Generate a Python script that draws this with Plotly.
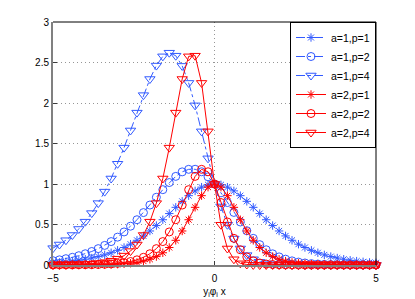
import plotly.graph_objects as go

x = [-5.0, -4.8, -4.6, -4.4, -4.2, -4.0, -3.8, -3.6, -3.4, -3.2, -3.0, -2.8, -2.6, -2.4, -2.2,
     -2.0, -1.8, -1.6, -1.4, -1.2, -1.0, -0.8, -0.6, -0.4, -0.2, 0.0, 0.2, 0.4, 0.6, 0.8,
     1.0, 1.2, 1.4, 1.6, 1.8, 2.0, 2.2, 2.4, 2.6, 2.8, 3.0, 3.2, 3.4, 3.6, 3.8, 4.0, 4.2,
     4.4, 4.6, 4.8, 5.0]

a1p1 = [0.027, 0.032, 0.039, 0.048, 0.058, 0.071, 0.086, 0.104, 0.125, 0.151, 0.181, 0.216, 0.257,
        0.305, 0.359, 0.420, 0.487, 0.559, 0.635, 0.712, 0.786, 0.856, 0.915, 0.961, 0.990, 1.000,
        0.990, 0.961, 0.915, 0.856, 0.786, 0.712, 0.635, 0.559, 0.487, 0.420, 0.359, 0.305, 0.257,
        0.216, 0.181, 0.151, 0.125, 0.104, 0.086, 0.071, 0.058, 0.048, 0.039, 0.032, 0.027]
a1p2 = [0.053, 0.064, 0.078, 0.095, 0.115, 0.139, 0.167, 0.202, 0.242, 0.289, 0.344, 0.408, 0.479,
        0.559, 0.647, 0.740, 0.836, 0.930, 1.018, 1.094, 1.150, 1.181, 1.182, 1.151, 1.089, 1.000,
        0.891, 0.771, 0.649, 0.531, 0.423, 0.329, 0.251, 0.188, 0.138, 0.100, 0.072, 0.051, 0.036,
        0.025, 0.017, 0.012, 0.008, 0.006, 0.004, 0.003, 0.002, 0.001, 0.001, 0.001, 0.000]
a1p4 = [0.208, 0.253, 0.306, 0.370, 0.445, 0.535, 0.641, 0.764, 0.906, 1.068, 1.250, 1.449, 1.661,
        1.881, 2.097, 2.296, 2.462, 2.576, 2.621, 2.584, 2.458, 2.248, 1.971, 1.650, 1.317, 1.000,
        0.723, 0.497, 0.326, 0.204, 0.122, 0.071, 0.039, 0.021, 0.011, 0.006, 0.003, 0.001, 0.001,
        0.000, 0.000, 0.000, 0.000, 0.000, 0.000, 0.000, 0.000, 0.000, 0.000, 0.000, 0.000]
a2p1 = [0.000, 0.000, 0.000, 0.001, 0.001, 0.001, 0.002, 0.003, 0.004, 0.007, 0.010, 0.015, 0.022,
        0.032, 0.048, 0.071, 0.104, 0.151, 0.216, 0.305, 0.420, 0.559, 0.712, 0.856, 0.961, 1.000,
        0.961, 0.856, 0.712, 0.559, 0.420, 0.305, 0.216, 0.151, 0.104, 0.071, 0.048, 0.032, 0.022,
        0.015, 0.010, 0.007, 0.004, 0.003, 0.002, 0.001, 0.001, 0.001, 0.000, 0.000, 0.000]
a2p2 = [0.000, 0.001, 0.001, 0.001, 0.002, 0.003, 0.004, 0.006, 0.009, 0.013, 0.020, 0.029, 0.043,
        0.064, 0.095, 0.139, 0.202, 0.289, 0.408, 0.559, 0.740, 0.930, 1.094, 1.181, 1.151, 1.000,
        0.771, 0.531, 0.329, 0.188, 0.100, 0.051, 0.025, 0.012, 0.006, 0.003, 0.001, 0.001, 0.000,
        0.000, 0.000, 0.000, 0.000, 0.000, 0.000, 0.000, 0.000, 0.000, 0.000, 0.000, 0.000]
a2p4 = [0.001, 0.002, 0.003, 0.005, 0.007, 0.011, 0.016, 0.024, 0.035, 0.053, 0.078, 0.116, 0.172,
        0.253, 0.370, 0.535, 0.764, 1.068, 1.449, 1.881, 2.296, 2.576, 2.584, 2.248, 1.650, 1.000,
        0.497, 0.204, 0.071, 0.021, 0.006, 0.001, 0.000, 0.000, 0.000, 0.000, 0.000, 0.000, 0.000,
        0.000, 0.000, 0.000, 0.000, 0.000, 0.000, 0.000, 0.000, 0.000, 0.000, 0.000, 0.000]

series_names = ["a=1,p=1", "a=1,p=2", "a=1,p=4", "a=2,p=1", "a=2,p=2", "a=2,p=4"]
series_values = [a1p1, a1p2, a1p4, a2p1, a2p2, a2p4]
y_ticks = [0, 0.5, 1, 1.5, 2, 2.5, 3]
y_tick_labels = ["0", "0.5", "1", "1.5", "2", "2.5", "3"]
x_ticks = [-5, 0, 5]
x_tick_labels = ["\u22125", "0", "5"]

BLUE = "rgb(50,90,255)"
RED = "rgb(255,0,0)"
styles = [
    (BLUE, "dashdot", "asterisk-open", 7),
    (BLUE, "dashdot", "circle-open", 8),
    (BLUE, "dashdot", "triangle-down-open", 9),
    (RED, "solid", "asterisk-open", 7),
    (RED, "solid", "circle-open", 8),
    (RED, "solid", "triangle-down-open", 9),
]

fig = go.Figure()
for name, vals, (col, dash, sym, size) in zip(series_names, series_values, styles):
    fig.add_trace(go.Scatter(
        x=x, y=vals, name=name, mode="lines+markers",
        line=dict(color=col, width=1, dash=dash),
        marker=dict(symbol=sym, size=size, color=col, line=dict(color=col, width=1)),
        cliponaxis=False,
    ))

FONT = "Liberation Sans, Arial, Helvetica, sans-serif"
GRID = "rgb(150,150,150)"
fig.update_layout(
    width=415, height=299,
    margin=dict(l=53, r=39, t=22, b=34, autoexpand=False),
    paper_bgcolor="white", plot_bgcolor="white",
    font=dict(family=FONT, size=10, color="black"),
    showlegend=True,
    legend=dict(
        x=1, y=1, xanchor="right", yanchor="top",
        bgcolor="white", bordercolor="black", borderwidth=1,
        font=dict(family=FONT, size=10.5, color="black"),
        tracegroupgap=0, itemwidth=30,
    ),
    xaxis=dict(
        range=[-5, 5], tickmode="array", tickvals=x_ticks, ticktext=x_tick_labels,
        showgrid=True, gridcolor=GRID, griddash="1px,3px", gridwidth=1,
        zeroline=False, showline=True, linecolor="rgb(128,128,128)", linewidth=2,
        ticks="inside", ticklen=4, tickcolor="rgb(60,60,60)", ticklabelstandoff=3,
        automargin=False,
        title=dict(text="y<sub>i</sub>φ<sub>i</sub> x", standoff=5, font=dict(size=10)),
    ),
    yaxis=dict(
        range=[0, 3], tickmode="array", tickvals=y_ticks, ticktext=y_tick_labels,
        showgrid=True, gridcolor=GRID, griddash="1px,3px", gridwidth=1,
        zeroline=False, showline=True, linecolor="rgb(128,128,128)", linewidth=2,
        ticks="inside", ticklen=4, tickcolor="rgb(60,60,60)", automargin=False,
    ),
    shapes=[
        dict(type="line", xref="paper", yref="paper", x0=0, x1=1, y0=1, y1=1,
             line=dict(color="black", width=1)),
        dict(type="line", xref="paper", yref="paper", x0=1, x1=1, y0=0, y1=1,
             line=dict(color="black", width=1)),
    ],
)

fig.write_html("out.html", config={"displayModeBar": False},
               post_script="document.body.style.margin='0px';document.body.style.padding='0px';")
